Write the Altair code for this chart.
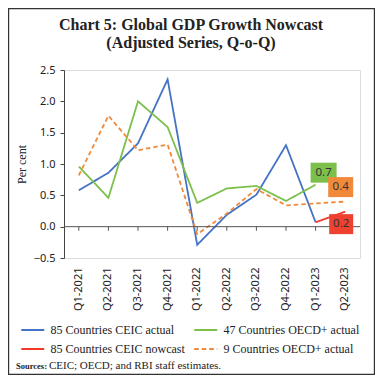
import altair as alt
import pandas as pd

quarters = ["Q1-2021", "Q2-2021", "Q3-2021", "Q4-2021", "Q1-2022",
            "Q2-2022", "Q3-2022", "Q4-2022", "Q1-2023", "Q2-2023"]
ceic_actual = [0.58, 0.86, 1.33, 2.35, -0.29, 0.19, 0.51, 1.30, 0.07, None]
oecd47_actual = [0.96, 0.46, 2.00, 1.59, 0.38, 0.61, 0.65, 0.41, 0.67, None]
ceic_nowcast = [None, None, None, None, None, None, None, None, 0.07, 0.24]
oecd9_actual = [0.82, 1.77, 1.22, 1.31, -0.12, 0.21, 0.60, 0.34, 0.37, 0.40]

series_names = ["85 Countries CEIC actual", "47 Countries OECD+ actual",
                "85 Countries CEIC nowcast", "9 Countries OECD+ actual"]
series_colors = ["#4472C4", "#7CC04B", "#F0392B", "#F08A3A"]
series_dash = [[1, 0], [1, 0], [1, 0], [4.5, 3]]

ann_series = ["47 Countries OECD+ actual", "9 Countries OECD+ actual", "85 Countries CEIC nowcast"]
ann_quarter = ["Q1-2023", "Q2-2023", "Q2-2023"]
ann_value = [0.67, 0.40, 0.24]
ann_label = ["0.7", "0.4", "0.2"]
ann_fill = ["#7CC04B", "#F08A3A", "#EE4130"]

y_ticks = [-0.5, 0.0, 0.5, 1.0, 1.5, 2.0, 2.5]
title_lines = ["Chart 5: Global GDP Growth Nowcast", "(Adjusted Series, Q-o-Q)"]
source_bold = "Sources:"
source_rest = "CEIC; OECD; and RBI staff estimates."

rows = []
for name, vals in zip(series_names, [ceic_actual, oecd47_actual, ceic_nowcast, oecd9_actual]):
    for q, v in zip(quarters, vals):
        if v is not None:
            rows.append({"quarter": q, "value": v, "series": name})
df = pd.DataFrame(rows)

xscale = alt.Scale(domain=quarters, padding=0)
yscale = alt.Scale(domain=[-0.5, 2.5], nice=False)

x_axis = alt.Axis(title=None, labelAngle=-90, domain=False, ticks=False,
                  tickSize=0, labelPadding=9, labelFont="Noto Sans",
                  labelFontSize=11, labelColor="#222", labelAlign="right",
                  labelBaseline="middle", labelOverlap=False)
y_axis = alt.Axis(title="Per cent", values=y_ticks,
                  format=".1f", grid=False, domainColor="#444", tickColor="#444",
                  tickSize=4, labelPadding=5, labelFont="Noto Sans",
                  labelFontSize=11, labelColor="#222", labelOverlap=False,
                  labelFlush=False, labelBound=False,
                  titleFont="Liberation Serif",
                  titleFontSize=12, titleFontWeight="normal", titleColor="#222",
                  titlePadding=5)

x_enc = alt.X("quarter:O", scale=xscale, sort=quarters, axis=x_axis)
y_enc = alt.Y("value:Q", scale=yscale, axis=y_axis)

lines = alt.Chart(df).mark_line(strokeWidth=1.8).encode(
    x=x_enc,
    y=y_enc,
    color=alt.Color("series:N", scale=alt.Scale(domain=series_names, range=series_colors),
                    sort=series_names,
                    legend=alt.Legend(title=None, orient="none", legendX=-38.25, legendY=253,
                                      columns=2, direction="horizontal",
                                      symbolType="M-2,0L2,0", symbolSize=132,
                                      symbolStrokeWidth=2, labelFont="Liberation Serif",
                                      labelFontSize=12, labelColor="#222", labelOffset=10.75,
                                      rowPadding=6, columnPadding=4, labelLimit=300)),
    strokeDash=alt.StrokeDash("series:N", scale=alt.Scale(domain=series_names, range=series_dash),
                              sort=series_names, legend=alt.Legend(title=None)),
)

zero_df = pd.DataFrame({"quarter": quarters})
zero_line = alt.Chart(pd.DataFrame({"value": [0.0]})).mark_rule(color="#555", strokeWidth=1).encode(
    y=y_enc, x=alt.value(0), x2=alt.value(296))
zero_ticks = alt.Chart(zero_df).mark_rule(color="#555", strokeWidth=1).encode(
    x=x_enc,
    y=alt.YDatum(0),
    y2=alt.Y2Datum(-0.065))

ann_df = pd.DataFrame({"series": ann_series, "quarter": ann_quarter, "value": ann_value,
                       "label": ann_label, "fill": ann_fill})
offsets = [(8, -12, 1.3), (-4.5, -14.5, 1.25), (-4, 12.5, 1.2)]
ann_layers = []
for i, (dx, dy, wf) in enumerate(offsets):
    sub = ann_df.iloc[[i]]
    path = f"M{-wf},-1L{wf},-1L{wf},1L{-wf},1Z"
    box = alt.Chart(sub).mark_point(shape=path, filled=True, opacity=1, size=400,
                                    fill=ann_fill[i], strokeWidth=0,
                                    xOffset=dx, yOffset=dy).encode(x=x_enc, y=y_enc)
    txt = alt.Chart(sub).mark_text(font="Noto Sans", fontSize=11.5, color="#333",
                                   xOffset=dx, yOffset=dy).encode(
        x=x_enc, y=y_enc, text="label:N")
    ann_layers += [box, txt]

title1 = alt.Chart(pd.DataFrame({"t": [title_lines[0]]})).mark_text(
    font="Liberation Serif", fontSize=16, fontWeight="bold", color="#222",
    align="center", baseline="middle").encode(text="t:N", x=alt.value(127), y=alt.value(-45))
title2 = alt.Chart(pd.DataFrame({"t": [title_lines[1]]})).mark_text(
    font="Liberation Serif", fontSize=16, fontWeight="bold", color="#222",
    align="center", baseline="middle").encode(text="t:N", x=alt.value(127), y=alt.value(-27))

src_bold = alt.Chart(pd.DataFrame({"t": [source_bold]})).mark_text(
    font="Liberation Serif", fontSize=8.5, fontWeight="bold", color="#222", align="left",
    baseline="alphabetic").encode(text="t:N", x=alt.value(-48), y=alt.value(299))
src_rest = alt.Chart(pd.DataFrame({"t": [source_rest]})).mark_text(
    font="Liberation Serif", fontSize=11, color="#222", align="left",
    baseline="alphabetic").encode(text="t:N", x=alt.value(-15), y=alt.value(299))

frame = alt.Chart(pd.DataFrame({"a": [0]})).mark_rect(fill=None, stroke="#333", strokeWidth=1.2).encode(
    x=alt.value(-55.4), x2=alt.value(310.4), y=alt.value(-61.4), y2=alt.value(304.4))

chart = alt.layer(lines, frame, zero_line, zero_ticks, *ann_layers, title1, title2,
                  src_bold, src_rest).properties(
    width=296, height=188,
    autosize=alt.AutoSizeParams(type="none"),
    padding={"left": 56, "top": 62, "right": 15, "bottom": 117},
).configure_view(stroke=None).configure(background="white").configure_axisY(
    labelOverlap=False, tickCount=7)

chart.save("out.html", embed_options={"renderer": "svg", "actions": False})
